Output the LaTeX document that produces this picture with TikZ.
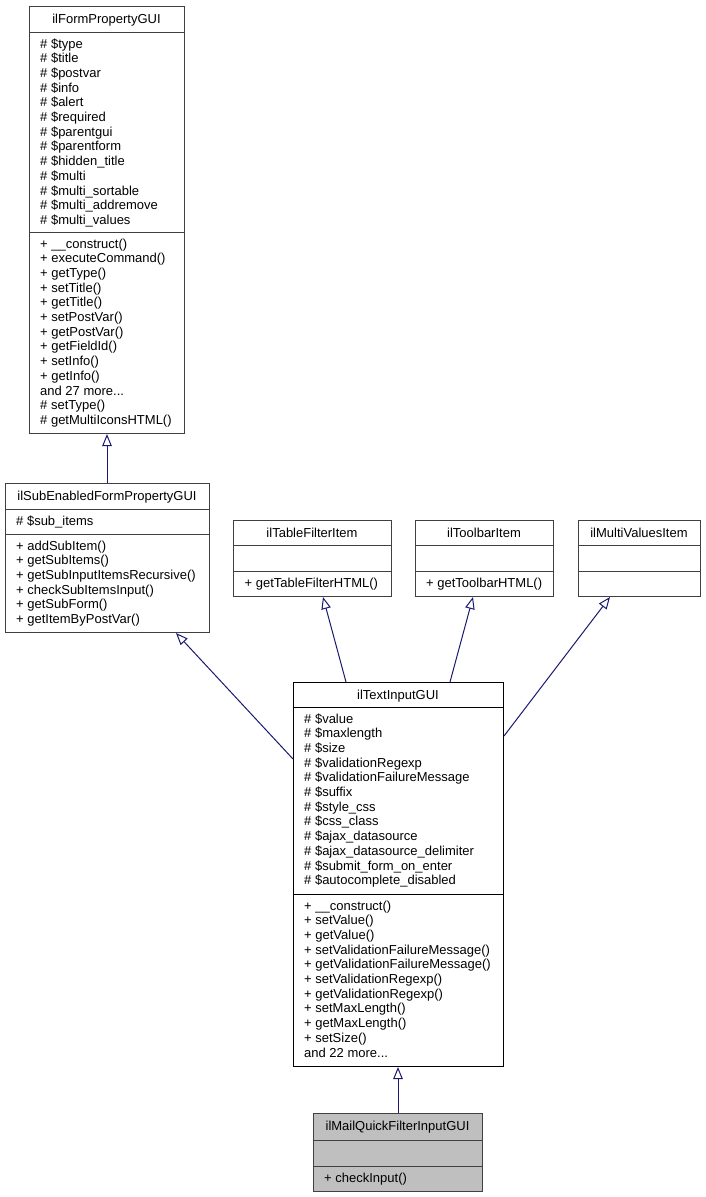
\documentclass[tikz,border=0pt]{standalone}
\usepackage{fontspec}
\setmainfont{Liberation Sans}
\usetikzlibrary{arrows.meta,calc}
\definecolor{navy}{HTML}{191970}
\definecolor{boxgray}{HTML}{404040}
\definecolor{mailfill}{HTML}{BFBFBF}
\newcommand\mydots{...}
\newcommand\umllines[4]{\foreach \lbl [count=\i] in {#4}{\node[txt] (#1-\i) at (#2,{#3+(\i-1)*14.7}) {\lbl};}}
\newcommand\umlsep[2]{\draw[sepline] ($(#1.north west)+(0,#2)$) -- ($(#1.north east)+(0,#2)$);}
\tikzset{
  umlbox/.style={draw=boxgray, line width=1pt, inner sep=0pt, anchor=north west, fill=white},
  sepline/.style={draw=boxgray, line width=1pt},
  txt/.style={font=\fontsize{13}{14.7}\selectfont, inner sep=0pt, anchor=base west},
  ttl/.style={font=\fontsize{13}{14.7}\selectfont, inner sep=0pt, anchor=base},
  inherit/.style={draw=navy, line width=1pt, -{Triangle[length=12pt,width=9.5pt,fill=white]}},
}
\begin{document}
\begin{tikzpicture}[x=1pt,y=-1pt]
\useasboundingbox (0,0) rectangle (706,1197);
% ilFormPropertyGUI
\node[umlbox, minimum width=155pt, minimum height=427pt] (A) at (29,6) {};
\umlsep{A}{26}\umlsep{A}{226}
\node[ttl] (A-t) at (106.5,23) {ilFormPropertyGUI};
\umllines{Aa}{40}{48}{\# \$type,\# \$title,\# \$postvar,\# \$info,\# \$alert,\# \$required,\# \$parentgui,\# \$parentform,\# \$hidden\_title,\# \$multi,\# \$multi\_sortable,\# \$multi\_addremove,\# \$multi\_values}
\umllines{Am}{40}{248}{+ \_\_construct(),+ executeCommand(),+ getType(),+ setTitle(),+ getTitle(),+ setPostVar(),+ getPostVar(),+ getFieldId(),+ setInfo(),+ getInfo(),and 27 more\mydots,\# setType(),\# getMultiIconsHTML()}
% ilSubEnabledFormPropertyGUI
\node[umlbox, minimum width=204pt, minimum height=149pt] (B) at (5,483) {};
\umlsep{B}{26}\umlsep{B}{51}
\node[ttl] (B-t) at (107,500) {ilSubEnabledFormPropertyGUI};
\umllines{Ba}{16}{525}{\# \$sub\_items}
\umllines{Bm}{16}{550}{+ addSubItem(),+ getSubItems(),+ getSubInputItemsRecursive(),+ checkSubItemsInput(),+ getSubForm(),+ getItemByPostVar()}
% ilTableFilterItem
\node[umlbox, minimum width=158pt, minimum height=76pt] (C) at (233,520) {};
\umlsep{C}{25}\umlsep{C}{51}
\node[ttl] (C-t) at (312,537) {ilTableFilterItem};
\umllines{Cm}{244.5}{587}{+ getTableFilterHTML()}
% ilToolbarItem
\node[umlbox, minimum width=138pt, minimum height=76pt] (D) at (415,520) {};
\umlsep{D}{25}\umlsep{D}{51}
\node[ttl] (D-t) at (484,537) {ilToolbarItem};
\umllines{Dm}{426}{587}{+ getToolbarHTML()}
% ilMultiValuesItem
\node[umlbox, minimum width=122pt, minimum height=76pt] (E) at (578,520) {};
\umlsep{E}{25}\umlsep{E}{51}
\node[ttl] (E-t) at (639,537) {ilMultiValuesItem};
% ilTextInputGUI
\node[umlbox, draw=black, minimum width=210pt, minimum height=384pt] (T) at (293,682) {};
\draw[line width=1pt] ($(T.north west)+(0,25)$) -- ($(T.north east)+(0,25)$);
\draw[line width=1pt] ($(T.north west)+(0,212)$) -- ($(T.north east)+(0,212)$);
\node[ttl] (T-t) at (398,699) {ilTextInputGUI};
\umllines{Ta}{304}{723}{\# \$value,\# \$maxlength,\# \$size,\# \$validationRegexp,\# \$validationFailureMessage,\# \$suffix,\# \$style\_css,\# \$css\_class,\# \$ajax\_datasource,\# \$ajax\_datasource\_delimiter,\# \$submit\_form\_on\_enter,\# \$autocomplete\_disabled}
\umllines{Tm}{304}{910}{+ \_\_construct(),+ setValue(),+ getValue(),+ setValidationFailureMessage(),+ getValidationFailureMessage(),+ setValidationRegexp(),+ getValidationRegexp(),+ setMaxLength(),+ getMaxLength(),+ setSize(),and 22 more\mydots}
% ilMailQuickFilterInputGUI
\node[umlbox, fill=mailfill, minimum width=169pt, minimum height=78pt] (M) at (313,1113) {};
\umlsep{M}{27}\umlsep{M}{53}
\node[ttl] (M-t) at (397.5,1130) {ilMailQuickFilterInputGUI};
\umllines{Mm}{324}{1182}{+ checkInput()}
% inheritance connectors
\draw[inherit] (B.north -| A.south) -- (A.south);
\draw[inherit] ($(T.north west)+(0,77)$) -- ($(B.south west)+(171,0)$);
\draw[inherit] ($(T.north west)+(53,0)$) -- ($(C.south west)+(90,0)$);
\draw[inherit] ($(T.north west)+(157,0)$) -- ($(D.south west)+(58,0)$);
\draw[inherit] ($(T.north east)+(0,54)$) -- ($(E.south west)+(32,0)$);
\draw[inherit] (M.north) -- (M.north |- T.south);
\end{tikzpicture}
\end{document}
